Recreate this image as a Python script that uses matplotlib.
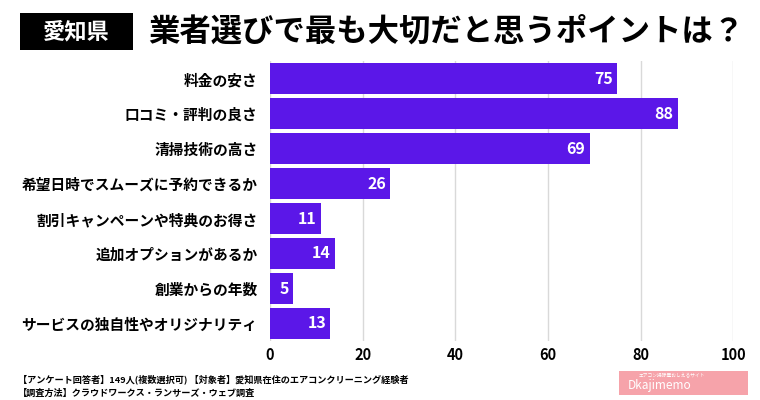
import matplotlib
matplotlib.use("Agg")
import matplotlib.pyplot as plt
from matplotlib.patches import Rectangle

plt.rcParams['font.family'] = ['Noto Sans CJK JP', 'DejaVu Sans']

categories = ["料金の安さ", "口コミ・評判の良さ", "清掃技術の高さ", "希望日時でスムーズに予約できるか",
              "割引キャンペーンや特典のお得さ", "追加オプションがあるか", "創業からの年数",
              "サービスの独自性やオリジナリティ"]
values = [75, 88, 69, 26, 11, 14, 5, 13]
xticks = [0, 20, 40, 60, 80, 100]

title_tag = "愛知県"
title = "業者選びで最も大切だと思うポイントは？"
footer1 = "【アンケート回答者】149人(複数選択可) 【対象者】愛知県在住のエアコンクリーニング経験者"
footer2 = "【調査方法】クラウドワークス・ランサーズ・ウェブ調査"

bar_color = "#5B17E8"

fig = plt.figure(figsize=(7.6, 4.0), dpi=100)
ax = fig.add_axes([270/760, 1-341/400, (733.3-270)/760, 280/400])

ypos = list(range(len(categories)))
ax.barh(ypos, values, height=0.885, color=bar_color, zorder=3)
ax.set_ylim(len(categories)-0.5, -0.5)
ax.set_xlim(0, 100)
ax.set_xticks(xticks)
ax.set_xticklabels([str(t) for t in xticks], fontsize=10.5, fontweight='bold')
ax.set_yticks(ypos)
ax.set_yticklabels(categories, fontsize=10.6, fontweight='bold')
ax.tick_params(axis='both', length=0)
ax.tick_params(axis='y', pad=9)
ax.tick_params(axis='x', pad=4)
for s in ax.spines.values():
    s.set_visible(False)
ax.grid(axis='x', color='#d9d9d9', linewidth=1, zorder=0)
ax.set_axisbelow(True)

for y, v in zip(ypos, values):
    ax.annotate(str(v), xy=(v, y), xytext=(-3, 0), textcoords='offset points',
                ha='right', va='center', color='white', fontsize=11.5,
                fontweight='bold', zorder=4)

# Title
fig.patches.append(Rectangle((20/760, 1-50/400), 113/760, 37/400, transform=fig.transFigure,
                             facecolor='black', edgecolor='none'))
fig.text(76.5/760, 1-31.5/400, title_tag, color='white', fontsize=16, fontweight='bold',
         ha='center', va='center')
fig.text(148/760, 1-31.5/400, title, color='black', fontsize=22.6, fontweight='bold',
         ha='left', va='center')

# Footer
fig.text(18/760, 1-379.5/400, footer1, fontsize=6.6, fontweight='bold', ha='left', va='center')
fig.text(18/760, 1-393/400, footer2, fontsize=6.6, fontweight='bold', ha='left', va='center')

# Logo
fig.patches.append(Rectangle((619/760, 1-395/400), 129/760, 24/400, transform=fig.transFigure,
                             facecolor='#F6A3AA', edgecolor='none'))
fig.text(672/760, 1-376/400, "エアコン掃除屋おしえるサイト", fontsize=3.4, color='white',
         ha='center', va='center')
fig.text(628/760, 1-386/400, "Dkajimemo", fontsize=8.5, color='white', ha='left', va='center',
         fontstyle='italic')

fig.savefig("out.png", dpi=100)
